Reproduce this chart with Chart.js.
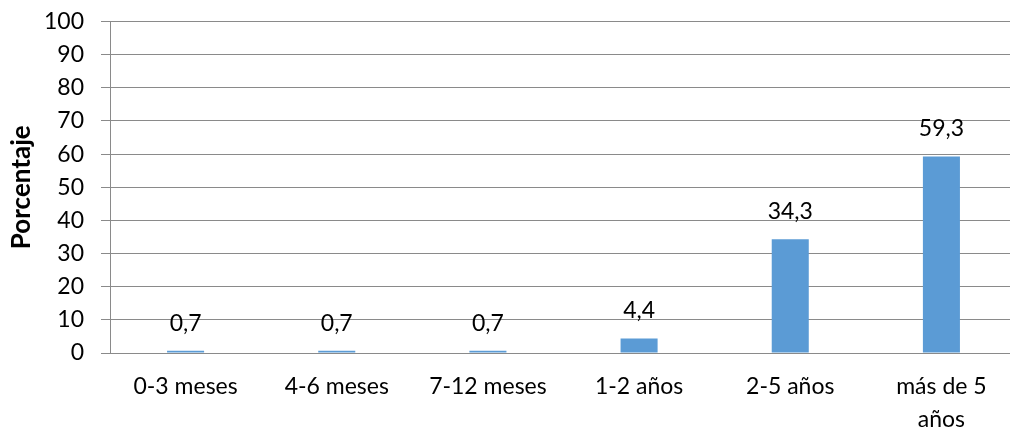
<!DOCTYPE html>
<html>
<head>
<meta charset="utf-8">
<script src="https://cdn.jsdelivr.net/npm/chart.js@4.4.1/dist/chart.umd.min.js"></script>
<style>
  html, body { margin: 0; padding: 0; background: #fff; overflow: hidden; }
  #wrap { position: relative; width: 1018px; height: 431px; }
</style>
</head>
<body>
<div id="wrap"><canvas id="c"></canvas></div>
<script>
// Tiempo de residencia (porcentaje por tramo)
const categories = ['0-3 meses', '4-6 meses', '7-12 meses', '1-2 años', '2-5 años', ['más de 5', 'años']];
const values = [0.7, 0.7, 0.7, 4.4, 34.3, 59.3];
const yTicks = [0, 10, 20, 30, 40, 50, 60, 70, 80, 90, 100];

const FONT = 'Lato, "Open Sans", sans-serif';
const GRID = '#8a8a8a';

// Etiquetas de valor sobre cada barra, con coma decimal
const valueLabels = {
  id: 'valueLabels',
  afterDatasetsDraw(chart) {
    const ctx = chart.ctx;
    const meta = chart.getDatasetMeta(0);
    ctx.save();
    ctx.font = '23px ' + FONT;
    ctx.fillStyle = '#000';
    ctx.textAlign = 'center';
    ctx.textBaseline = 'alphabetic';
    meta.data.forEach((bar, i) => {
      const txt = values[i].toFixed(1).replace('.', ',');
      ctx.fillText(txt, bar.x, bar.y - 20);
    });
    ctx.restore();
  }
};

new Chart(document.getElementById('c'), {
  type: 'bar',
  data: {
    labels: categories,
    datasets: [{
      data: values,
      backgroundColor: '#5B9BD5',
      barPercentage: 0.245,
      categoryPercentage: 1
    }]
  },
  options: {
    responsive: true,
    maintainAspectRatio: false,
    animation: false,
    layout: { padding: { top: 21.5, right: 1, bottom: 0, left: 0 } },
    plugins: { legend: { display: false }, tooltip: { enabled: false } },
    scales: {
      x: {
        grid: { display: false },
        border: { display: false },
        ticks: { color: '#000', font: { family: FONT, size: 23, lineHeight: 1.45 }, padding: 9, maxRotation: 0, autoSkip: false },
        afterFit(scale) { scale.height = 78; }
      },
      y: {
        min: 0, max: 100,
        afterBuildTicks(scale) { scale.ticks = yTicks.map(v => ({ value: v })); },
        grid: { color: GRID, lineWidth: 1, tickLength: 9, drawTicks: true },
        border: { display: true, color: GRID, width: 1 },
        ticks: { color: '#000', font: { family: FONT, size: 23 }, padding: 17 },
        title: { display: true, text: 'Porcentaje', color: '#000', font: { family: FONT, size: 26, weight: 'bold' }, padding: { top: 6, bottom: 0 } },
        afterFit(scale) {
          scale.width = 110;
          scale.paddingTop = 0;
          scale.paddingBottom = 0;
        }
      }
    }
  },
  plugins: [valueLabels]
});
</script>
</body>
</html>
